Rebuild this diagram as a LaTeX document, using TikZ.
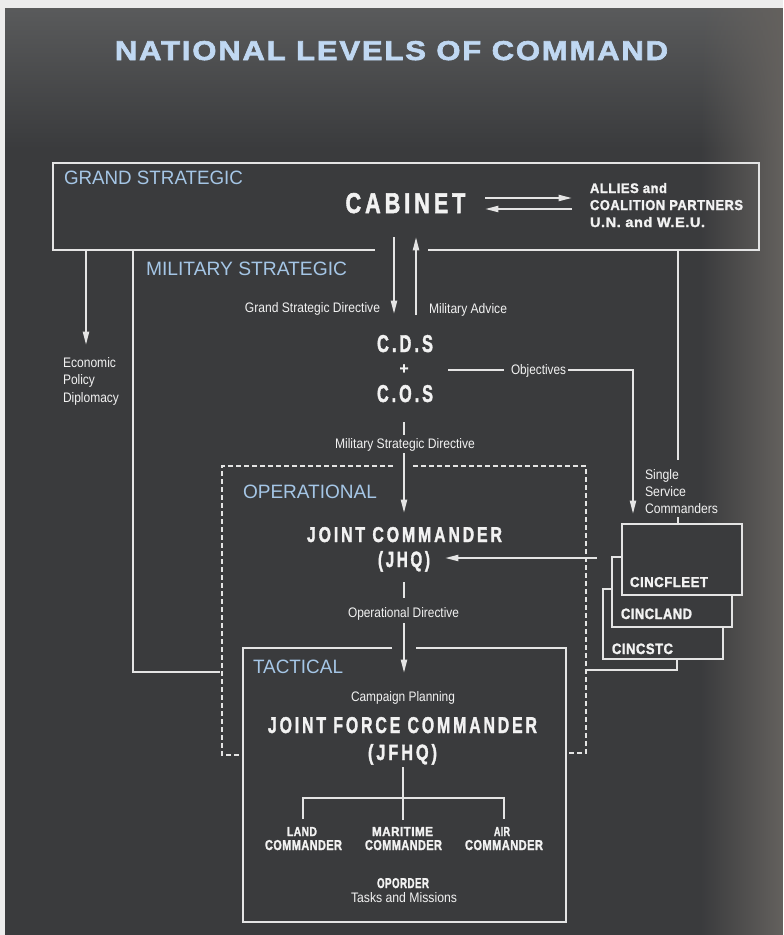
\documentclass[tikz,border=0pt]{standalone}
\usepackage{fontspec}
\setmainfont{Liberation Sans}
\newfontfamily\hvy{Liberation Sans}[LetterSpace=18,BoldFeatures={FakeBold=2}]
\newfontfamily\hvs{Liberation Sans}[LetterSpace=4,BoldFeatures={FakeBold=1.8}]
\newfontfamily\ttl{Liberation Sans}[LetterSpace=6,BoldFeatures={FakeBold=2.2}]
\usetikzlibrary{arrows.meta,fadings}
\newdimen\mypx \mypx=0.75pt
\newcommand{\fitt}[3]{\resizebox{#1\mypx}{#2\mypx}{#3}}
\definecolor{bg}{RGB}{58,59,61}
\definecolor{bgtop}{RGB}{90,91,92}
\definecolor{bgright}{RGB}{100,97,94}
\definecolor{pagew}{RGB}{236,236,236}
\definecolor{fg}{RGB}{242,242,242}
\definecolor{lc}{RGB}{228,228,228}
\definecolor{lvlblue}{RGB}{165,198,230}
\definecolor{ttlblue}{RGB}{192,216,242}
\tikzset{
  txt/.style={inner sep=0pt, outer sep=0pt, text=fg},
  lvl/.style={inner sep=0pt, outer sep=0pt, text=lvlblue},
  ln/.style={draw=lc, line width=1.5pt},
  arr/.style={ln, -{Triangle[length=10pt,width=4.5pt]}},
  dsh/.style={ln, dash pattern=on 3.5pt off 2.5pt},
  cinc/.style={draw=lc, line width=1.5pt, fill=bg, inner sep=0pt, outer sep=0pt, anchor=north west},
}
\begin{document}
\begin{tikzpicture}[x=0.75pt,y=-0.75pt]
\useasboundingbox (0,0) rectangle (783,935);
% background
\fill[pagew] (0,0) rectangle (783,935);
\fill[bg] (5,8) rectangle (783,935);
\fill[bgtop, path fading=south] (5,8) rectangle (783,150);
\fill[bgright, path fading=west] (700,8) rectangle (783,935);

% title
\node[inner sep=0pt, text=ttlblue, anchor=base] (title) at (391.5,60) {\fitt{553}{19}{\ttl\bfseries NATIONAL LEVELS OF COMMAND}};

% level labels
\node[lvl, anchor=base west] (lgs) at (64,184.5) {\fitt{179}{13.5}{GRAND STRATEGIC}};
\node[lvl, anchor=base west] (lms) at (146,275) {\fitt{201}{13.5}{MILITARY STRATEGIC}};
\node[lvl, anchor=base west] (lop) at (243,498) {\fitt{134}{13.5}{OPERATIONAL}};
\node[lvl, anchor=base west] (ltac) at (253,673) {\fitt{90}{13.5}{TACTICAL}};

% main texts
\node[txt, anchor=base] (cab) at (405.5,213) {\fitt{120}{20}{\hvy\bfseries CABINET}};
\node[txt, anchor=base west] (al1) at (590,193) {\fitt{77}{10}{\hvs\bfseries ALLIES and}};
\node[txt, anchor=base west] (al2) at (590,210) {\fitt{153}{10}{\hvs\bfseries COALITION PARTNERS}};
\node[txt, anchor=base west] (al3) at (590,227) {\fitt{115}{10}{\hvs\bfseries U.N. and W.E.U.}};

\node[txt, anchor=base east] (gsd) at (380,312) {\fitt{135}{10}{Grand Strategic Directive}};
\node[txt, anchor=base west] (madv) at (429,313) {\fitt{78}{10}{Military Advice}};

\node[txt, anchor=base west] (eco1) at (63,367) {\fitt{53}{10}{Economic}};
\node[txt, anchor=base west] (eco2) at (63,384) {\fitt{32}{10}{Policy}};
\node[txt, anchor=base west] (eco3) at (63,402) {\fitt{56}{10}{Diplomacy}};

\node[txt, anchor=base] (cds) at (405,352) {\fitt{56}{17}{\hvy\bfseries C.D.S}};
\node[txt] (plus) at (404,369) {\resizebox{9\mypx}{!}{\hvs\bfseries +}};
\node[txt, anchor=base] (cos) at (405,402) {\fitt{56}{17}{\hvy\bfseries C.O.S}};
\node[txt, anchor=base west] (obj) at (511,374.5) {\fitt{55}{10}{Objectives}};
\node[txt, anchor=base] (msd) at (405,448) {\fitt{140}{10}{Military Strategic Directive}};

\node[txt, anchor=base west] (ssc1) at (645,479) {\fitt{34}{10}{Single}};
\node[txt, anchor=base west] (ssc2) at (645,496) {\fitt{41}{10}{Service}};
\node[txt, anchor=base west] (ssc3) at (645,513) {\fitt{73}{10}{Commanders}};

\node[txt, anchor=base] (jc) at (404.5,542) {\fitt{195}{15}{\hvy\bfseries JOINT COMMANDER}};
\node[txt, anchor=base] (jhq) at (404,567) {\fitt{52}{16}{\hvy\bfseries (JHQ)}};
\node[txt, anchor=base] (opd) at (403.5,617) {\fitt{111}{10}{Operational Directive}};

\node[txt, anchor=base] (cp) at (403,701) {\fitt{104}{10}{Campaign Planning}};
\node[txt, anchor=base] (jfc) at (402.5,733) {\fitt{269}{16}{\hvy\bfseries JOINT FORCE COMMANDER}};
\node[txt, anchor=base] (jfhq) at (402.5,760) {\fitt{69}{16}{\hvy\bfseries (JFHQ)}};

\node[txt, anchor=base] (land1) at (302,836) {\fitt{30}{9}{\hvs\bfseries LAND}};
\node[txt, anchor=base] (land2) at (303.5,850) {\fitt{77}{10}{\hvs\bfseries COMMANDER}};
\node[txt, anchor=base] (mar1) at (402.5,836) {\fitt{61}{9}{\hvs\bfseries MARITIME}};
\node[txt, anchor=base] (mar2) at (403.5,850) {\fitt{77}{10}{\hvs\bfseries COMMANDER}};
\node[txt, anchor=base] (air1) at (502,836) {\fitt{16}{9}{\hvs\bfseries AIR}};
\node[txt, anchor=base] (air2) at (504,850) {\fitt{78}{10}{\hvs\bfseries COMMANDER}};
\node[txt, anchor=base] (opo) at (403,888) {\fitt{52}{10}{\hvs\bfseries OPORDER}};
\node[txt, anchor=base] (tam) at (404,902) {\fitt{106}{10}{Tasks and Missions}};

% CINC boxes
\node[cinc, minimum width=120\mypx, minimum height=70\mypx] (stc) at (603,589) {};
\node[cinc, minimum width=120\mypx, minimum height=70\mypx] (lnd) at (612,557) {};
\node[cinc, minimum width=120\mypx, minimum height=71\mypx] (flt) at (622,524) {};
\node[txt, anchor=base west] (tflt) at (630,587) {\fitt{78}{10}{\hvs\bfseries CINCFLEET}};
\node[txt, anchor=base west] (tlnd) at (621,619) {\fitt{71}{10.5}{\hvs\bfseries CINCLAND}};
\node[txt, anchor=base west] (tstc) at (612,654) {\fitt{61}{10.5}{\hvs\bfseries CINCSTC}};

% coordinates
\coordinate (gsA) at (375,250);
\coordinate (gsB) at (428,250);
\coordinate (dnA) at (394,237); \coordinate (dnB) at (394,314);
\coordinate (upA) at (416,315); \coordinate (upB) at (416,237);
\coordinate (r1a) at (485,198); \coordinate (r1b) at (572,198);
\coordinate (r2a) at (572,209); \coordinate (r2b) at (485,209);
\coordinate (ecoA) at (86,250); \coordinate (ecoB) at (86,345);
\coordinate (msL) at (133,250); \coordinate (msLB) at (133,672); \coordinate (msLE) at (220,672);
\coordinate (msR) at (678,250); \coordinate (msRB) at (678,460);
\coordinate (objA) at (448,370); \coordinate (objB) at (504,370);
\coordinate (objC) at (568,370); \coordinate (objD) at (633,370); \coordinate (objE) at (633,514);
\coordinate (msdA) at (404,422); \coordinate (msdB) at (404,435);
\coordinate (msdC) at (404,453); \coordinate (msdD) at (404,513);
\coordinate (jhqA) at (597,558); \coordinate (jhqB) at (445,558);
\coordinate (opdA) at (404,582); \coordinate (opdB) at (404,598);
\coordinate (opdC) at (404,623); \coordinate (opdD) at (404,673);

% grand strategic box
\draw[ln] (gsA) -- (53,250) -- (53,163) -- (759,163) -- (759,250) -- (gsB);
% cabinet <-> cds
\draw[arr] (dnA) -- (dnB);
\draw[arr] (upA) -- (upB);
% cabinet <-> allies
\draw[arr] (r1a) -- (r1b);
\draw[arr] (r2a) -- (r2b);
% economic
\draw[arr] (ecoA) -- (ecoB);
% military strategic region
\draw[ln] (msL) -- (msLB) -- (msLE);
\draw[ln] (msR) -- (msRB);
\draw[ln] (flt.north -| msR) ++(0,-7) -- (flt.north -| msR);
\draw[ln] (586,670) -- (677,670) -- (stc.south -| 677,0);
% objectives
\draw[ln] (objA) -- (objB);
\draw[arr] (objC) -- (objD) -- (objE);
% military strategic directive
\draw[ln] (msdA) -- (msdB);
\draw[arr] (msdC) -- (msdD);
% operational dashed box
\draw[dsh] (393,466) -- (222,466) -- (222,755) -- (240,755);
\draw[dsh] (413,466) -- (586,466) -- (586,753) -- (567,753);
% JHQ arrow
\draw[arr] (jhqA) -- (jhqB);
% operational directive
\draw[ln] (opdA) -- (opdB);
\draw[arr] (opdC) -- (opdD);
% tactical box
\draw[ln] (392,648) -- (243,648) -- (243,922) -- (566,922) -- (566,648) -- (416,648);
% component tree
\draw[ln] (403,767) -- (403,820);
\draw[ln] (303,819) -- (303,798) -- (504,798) -- (504,819);
\end{tikzpicture}
\end{document}
